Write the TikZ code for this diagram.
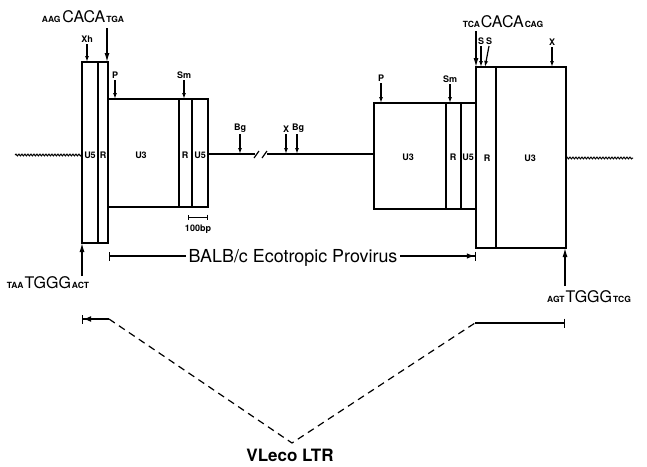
\documentclass[tikz,border=0pt]{standalone}
\usepackage{fontspec}
\setmainfont{TeX Gyre Heros}
\usetikzlibrary{arrows.meta,decorations.pathmorphing}

\newcommand{\seqsm}[1]{{\fontsize{8.5}{9}\selectfont\bfseries #1}}
\newcommand{\seqbig}[1]{{\fontsize{16}{16}\selectfont #1}}

\begin{document}
\begin{tikzpicture}[x=1pt,y=-1pt,line width=1.2pt,
  >={Latex[length=6pt,width=4pt]},
  site/.style={font=\fontsize{9}{9}\selectfont\bfseries, inner sep=0.5pt},
  seg/.style={font=\fontsize{9}{9}\selectfont\bfseries, inner sep=0pt},
  seq/.style={inner sep=0pt, anchor=base},
  big/.style={-{Latex[length=9pt,width=5pt]}},
  wavy/.style={decorate, decoration={snake, amplitude=0.9pt, segment length=3pt}}]

  \useasboundingbox (0,0) rectangle (647,466);

  % Reference heights
  \coordinate (ltop) at (0,62);
  \coordinate (lbot) at (0,243);
  \coordinate (utop) at (0,99);
  \coordinate (line) at (0,154);
  \coordinate (mtop) at (0,103);
  \coordinate (rtop) at (0,67);
  \coordinate (rbot) at (0,248);

  % Flanking cellular DNA
  \draw[wavy, line width=1pt] (15,155) -- (82,155);
  \draw[wavy, line width=1pt] (566,158) -- (633,158);

  % 5' LTR
  \draw (82,62) rectangle (108,243);
  \draw (98,62) -- (98,243);
  \draw (108,99) rectangle (208,207);
  \draw (179,99) -- (179,207);
  \draw (192,99) -- (192,207);

  % Viral body
  \draw (208,154) -- (255,154);
  \draw (254,158) -- (259,151);
  \draw (262,158) -- (267,151);
  \draw (267,154) -- (374,154);

  % 3' LTR
  \draw (374,103) rectangle (476,209);
  \draw (446,103) -- (446,209);
  \draw (461,103) -- (461,209);
  \draw (476,67) rectangle (566,248);
  \draw (496,67) -- (496,248);

  % Segment labels
  \node[seg] at (90,155) {U5};
  \node[seg] at (103,155) {R};
  \node[seg] at (141,155) {U3};
  \node[seg] at (185,155) {R};
  \node[seg] at (200,155) {U5};
  \node[seg] at (408,157) {U3};
  \node[seg] at (453,157) {R};
  \node[seg] at (468,157) {U5};
  \node[seg] at (487,158) {R};
  \node[seg] at (530,158) {U3};

  % Restriction sites
  \node[site, anchor=south] (xh) at (87,44) {Xh};
  \node[site, anchor=south] (p1) at (115,80) {P};
  \node[site, anchor=south] (sm1) at (184,80) {Sm};
  \node[site, anchor=south] (bg1) at (240,134) {Bg};
  \node[site, anchor=south] (x1) at (286,134) {X};
  \node[site, anchor=south] (bg2) at (298,134) {Bg};
  \node[site, anchor=south] (p2) at (381,83) {P};
  \node[site, anchor=south] (sm2) at (450,84) {Sm};
  \node[site, anchor=south] (s1) at (481,46) {S};
  \node[site, anchor=south] (s2) at (489,46) {S};
  \node[site, anchor=south] (x2) at (552,47) {X};
  \coordinate (s2end) at (485,67);

  \draw[->] (xh.south) -- (xh.south |- ltop);
  \draw[->] (p1.south) -- (p1.south |- utop);
  \draw[->] (sm1.south) -- (sm1.south |- utop);
  \draw[->] (bg1.south) -- (bg1.south |- line);
  \draw[->] (x1.south) -- (x1.south |- line);
  \draw[->] ([xshift=-1pt]bg2.south) -- ([xshift=-1pt]bg2.south |- line);
  \draw[->] (p2.south) -- (p2.south |- mtop);
  \draw[->] (sm2.south) -- (sm2.south |- mtop);
  \draw[->] (s1.south) -- (s1.south |- rtop);
  \draw[->] (s2.south) -- (s2end);
  \draw[->] (x2.south) -- (x2.south |- rtop);

  % Junction sequences
  \node[seq] (cl) at (83,22) {\seqsm{AAG}\hspace{2pt}\seqbig{CACA}\hspace{1pt}\seqsm{TGA}};
  \node[seq] (cr) at (503,27) {\seqsm{TCA}\hspace{1pt}\seqbig{CACA}\hspace{1pt}\seqsm{CAG}};
  \node[seq] (tl) at (48,288) {\seqsm{TAA}\hspace{1pt}\seqbig{TGGG}\hspace{1pt}\seqsm{ACT}};
  \node[seq] (tr) at (589,302) {\seqsm{AGT}\hspace{1pt}\seqbig{TGGG}\hspace{1pt}\seqsm{TCG}};
  \coordinate (clend) at (107,28);
  \coordinate (crend) at (476,31);
  \coordinate (tlend) at (82,276);
  \coordinate (trend) at (565,286);

  \draw[big] (clend) -- (clend |- ltop);
  \draw[big] (crend) -- (crend |- rtop);
  \draw[big] (tlend) -- (tlend |- lbot);
  \draw[big] (trend) -- (trend |- rbot);

  % Scale bar
  \draw[{Bar[width=5pt]}-{Bar[width=5pt]}, line width=1pt] (188,217) -- (208,217);
  \node[seg] (bp) at (198,229) {100bp};

  % Provirus span
  \node[inner sep=2pt, font=\fontsize{17.9}{18}\selectfont] (prov) at (293,258) {BALB/c Ecotropic Provirus};
  \coordinate (provL) at (109,256);
  \coordinate (provR) at (476,256);
  \draw[{Bar[width=9pt]}-] (provL) -- (prov.west |- provL);
  \draw[-{Latex[length=8pt,width=5.5pt]Bar[width=9pt]}] (prov.east |- provR) -- (provR);

  % Isolated LTR
  \node[inner sep=0pt, font=\fontsize{17}{18}\selectfont\bfseries] (vl) at (290,455) {VLeco LTR};
  \coordinate (ll) at (82,319);
  \coordinate (lk) at (109,319);
  \coordinate (apex) at (292,443);
  \coordinate (rk) at (475,323);
  \coordinate (rr) at (565,323);
  \draw[-{Latex[length=8pt,width=6pt]Bar[width=9pt]}] (lk) -- (ll);
  \draw[dash pattern=on 7pt off 5pt] (lk) -- (apex) -- (rk);
  \draw[-{Bar[width=9pt]}] (rk) -- (rr);

\end{tikzpicture}
\end{document}
